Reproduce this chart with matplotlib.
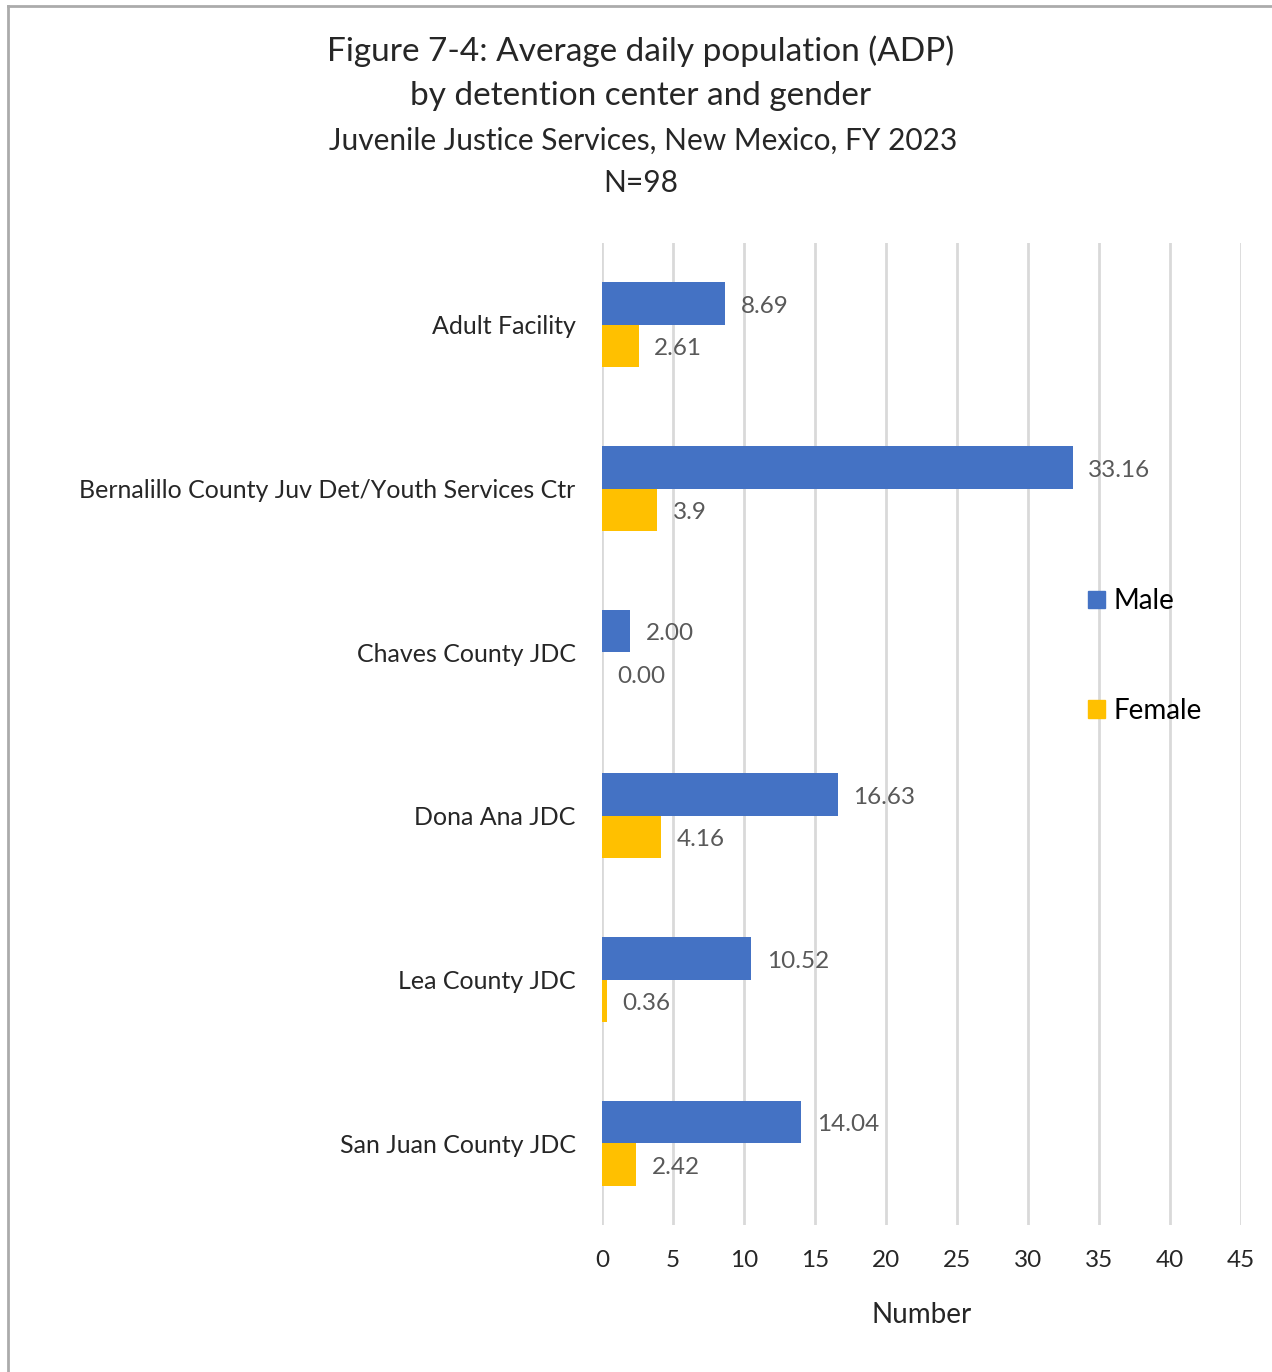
import matplotlib
matplotlib.use("Agg")
import matplotlib.pyplot as plt
from matplotlib.lines import Line2D
from matplotlib.patches import Patch
import numpy as np

plt.rcParams['font.family'] = ['Lato', 'DejaVu Sans']

categories = ["Adult Facility", "Bernalillo County Juv Det/Youth Services Ctr",
              "Chaves County JDC", "Dona Ana JDC", "Lea County JDC", "San Juan County JDC"]
male = [8.69, 33.16, 2.00, 16.63, 10.52, 14.04]
female = [2.61, 3.9, 0.00, 4.16, 0.36, 2.42]
male_labels = ["8.69", "33.16", "2.00", "16.63", "10.52", "14.04"]
female_labels = ["2.61", "3.9", "0.00", "4.16", "0.36", "2.42"]
xticks = [0, 5, 10, 15, 20, 25, 30, 35, 40, 45]

W, H = 1272, 1372
fig = plt.figure(figsize=(W/100, H/100), dpi=100)
ax = fig.add_axes([602/W, 1-1225/H, (1241-602)/W, (1225-243)/H])

y = np.arange(len(categories))
h = 0.26
male_color = "#4472C4"
female_color = "#FFC000"
ax.barh(y - h/2, male, height=h, color=male_color)
ax.barh(y + h/2, female, height=h, color=female_color)

for yi, v, s in zip(y, male, male_labels):
    ax.annotate(s, (v, yi - h/2), xytext=(11, -2), textcoords="offset points",
                va="center", ha="left", fontsize=17.5, color="#595959")
for yi, v, s in zip(y, female, female_labels):
    ax.annotate(s, (v, yi + h/2), xytext=(11, -2), textcoords="offset points",
                va="center", ha="left", fontsize=17.5, color="#595959")

ax.set_xlim(0, 45)
ax.set_ylim(len(categories) - 0.5, -0.5)
ax.set_xticks(xticks)
ax.set_xticklabels([str(t) for t in xticks], fontsize=17.5, color="#262626")
ax.set_yticks(y)
ax.set_yticklabels(categories, fontsize=18, color="#262626")
ax.tick_params(axis="both", length=0)
ax.tick_params(axis="x", pad=18)
ax.tick_params(axis="y", pad=19)
for sp in ax.spines.values():
    sp.set_visible(False)
ax.xaxis.grid(True, color="#D9D9D9", linewidth=2)
ax.set_axisbelow(True)
ax.set_xlabel("Number", fontsize=20, color="#262626", labelpad=22)

fig.text(641/W, 1-51/H, "Figure 7-4: Average daily population (ADP)", ha="center", va="center",
         fontsize=24, color="#262626")
fig.text(641/W, 1-96/H, "by detention center and gender", ha="center", va="center",
         fontsize=24, color="#262626")
fig.text(643/W, 1-141/H, "Juvenile Justice Services, New Mexico, FY 2023", ha="center", va="center",
         fontsize=21.5, color="#262626")
fig.text(641/W, 1-183/H, "N=98", ha="center", va="center",
         fontsize=21.5, color="#262626")

handles = [Patch(color=male_color), Patch(color=female_color)]
fig.legend(handles, ["Male", "Female"], loc="center left",
           bbox_to_anchor=(1088/W, 1-656/H), frameon=False, fontsize=20,
           handlelength=0.6, handleheight=0.6, handletextpad=0.3, labelspacing=3.0,
           borderaxespad=0, borderpad=0)

# border
fig.add_artist(Line2D([8/W, 8/W], [0, 1-6/H], transform=fig.transFigure, color="#ABABAB", lw=2))
fig.add_artist(Line2D([8/W, 1], [1-6/H, 1-6/H], transform=fig.transFigure, color="#ABABAB", lw=2))

fig.savefig("out.png", dpi=100, facecolor="white")
